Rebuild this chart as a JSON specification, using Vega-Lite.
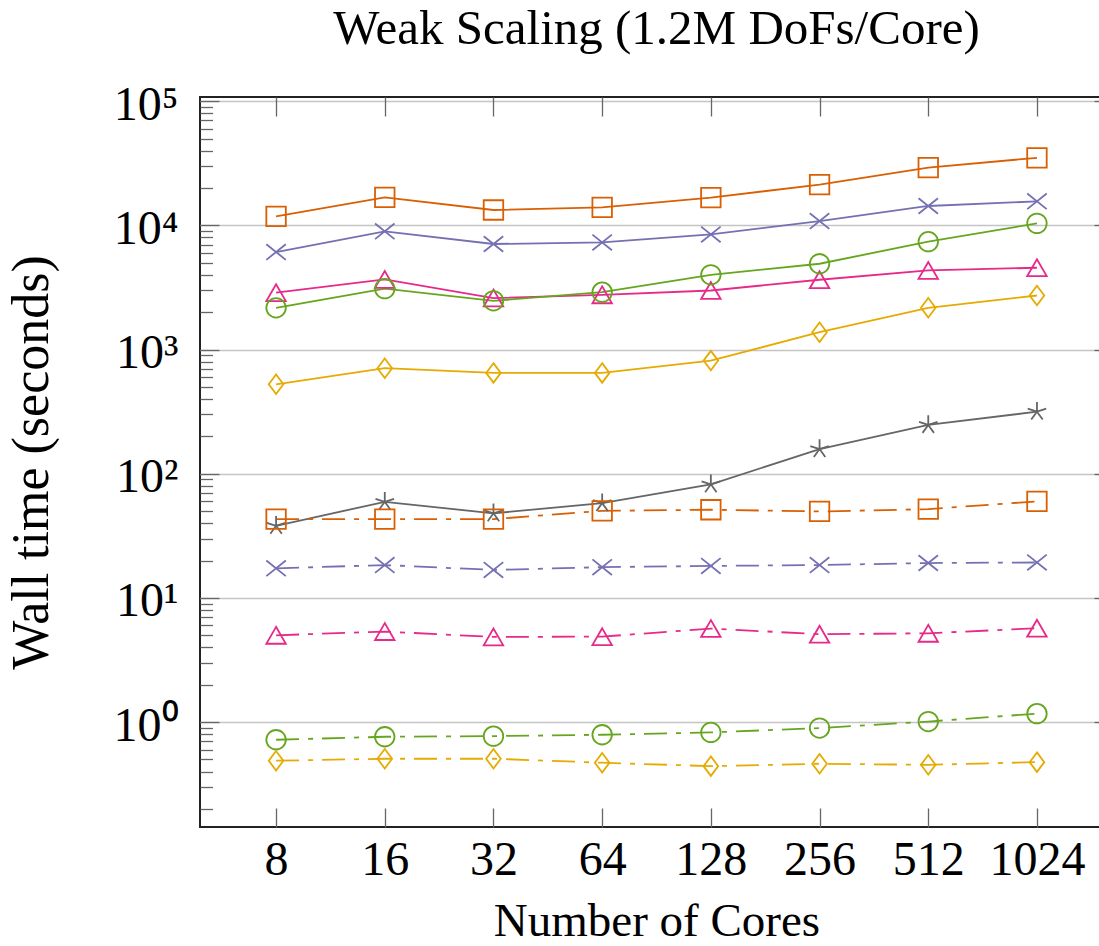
{
  "$schema": "https://vega.github.io/schema/vega-lite/v6.json",
  "width": 913,
  "height": 730,
  "autosize": {"type": "none"},
  "padding": {"left": 200, "top": 97, "right": -14, "bottom": 119},
  "background": "white",
  "title": {"text": "Weak Scaling (1.2M DoFs/Core)", "font": "Liberation Serif", "fontSize": 49, "fontWeight": "normal", "color": "black", "anchor": "middle", "frame": "group", "offset": 27},
  "config": {
    "view": {"stroke": "#222222", "strokeWidth": 2},
    "axis": {"labelFont": "Liberation Serif", "labelFontSize": 48, "labelColor": "black", "titleFont": "Liberation Serif", "titleFontSize": 48, "titleFontWeight": "normal", "titleColor": "black", "tickColor": "#666666", "tickWidth": 1.3, "domain": false, "gridColor": "#c4c4c4", "gridWidth": 1.5}
  },
  "data": {"values": [
    {"cores": 8, "time": 11830, "group": "A", "variant": "a"},
    {"cores": 16, "time": 16800, "group": "A", "variant": "a"},
    {"cores": 32, "time": 13300, "group": "A", "variant": "a"},
    {"cores": 64, "time": 13970, "group": "A", "variant": "a"},
    {"cores": 128, "time": 16720, "group": "A", "variant": "a"},
    {"cores": 256, "time": 21300, "group": "A", "variant": "a"},
    {"cores": 512, "time": 29200, "group": "A", "variant": "a"},
    {"cores": 1024, "time": 35000, "group": "A", "variant": "a"},
    {"cores": 8, "time": 6100, "group": "B", "variant": "a"},
    {"cores": 16, "time": 8950, "group": "B", "variant": "a"},
    {"cores": 32, "time": 7080, "group": "B", "variant": "a"},
    {"cores": 64, "time": 7290, "group": "B", "variant": "a"},
    {"cores": 128, "time": 8460, "group": "B", "variant": "a"},
    {"cores": 256, "time": 10840, "group": "B", "variant": "a"},
    {"cores": 512, "time": 14330, "group": "B", "variant": "a"},
    {"cores": 1024, "time": 15620, "group": "B", "variant": "a"},
    {"cores": 8, "time": 2870, "group": "C", "variant": "a"},
    {"cores": 16, "time": 3670, "group": "C", "variant": "a"},
    {"cores": 32, "time": 2600, "group": "C", "variant": "a"},
    {"cores": 64, "time": 2760, "group": "C", "variant": "a"},
    {"cores": 128, "time": 2990, "group": "C", "variant": "a"},
    {"cores": 256, "time": 3650, "group": "C", "variant": "a"},
    {"cores": 512, "time": 4340, "group": "C", "variant": "a"},
    {"cores": 1024, "time": 4560, "group": "C", "variant": "a"},
    {"cores": 8, "time": 2170, "group": "D", "variant": "a"},
    {"cores": 16, "time": 3090, "group": "D", "variant": "a"},
    {"cores": 32, "time": 2470, "group": "D", "variant": "a"},
    {"cores": 64, "time": 2900, "group": "D", "variant": "a"},
    {"cores": 128, "time": 4000, "group": "D", "variant": "a"},
    {"cores": 256, "time": 4910, "group": "D", "variant": "a"},
    {"cores": 512, "time": 7390, "group": "D", "variant": "a"},
    {"cores": 1024, "time": 10380, "group": "D", "variant": "a"},
    {"cores": 8, "time": 525, "group": "E", "variant": "a"},
    {"cores": 16, "time": 708, "group": "E", "variant": "a"},
    {"cores": 32, "time": 649, "group": "E", "variant": "a"},
    {"cores": 64, "time": 649, "group": "E", "variant": "a"},
    {"cores": 128, "time": 815, "group": "E", "variant": "a"},
    {"cores": 256, "time": 1380, "group": "E", "variant": "a"},
    {"cores": 512, "time": 2170, "group": "E", "variant": "a"},
    {"cores": 1024, "time": 2725, "group": "E", "variant": "a"},
    {"cores": 8, "time": 38.1, "group": "F", "variant": "a"},
    {"cores": 16, "time": 59.4, "group": "F", "variant": "a"},
    {"cores": 32, "time": 48.0, "group": "F", "variant": "a"},
    {"cores": 64, "time": 58.0, "group": "F", "variant": "a"},
    {"cores": 128, "time": 82.2, "group": "F", "variant": "a"},
    {"cores": 256, "time": 158, "group": "F", "variant": "a"},
    {"cores": 512, "time": 247, "group": "F", "variant": "a"},
    {"cores": 1024, "time": 316, "group": "F", "variant": "a"},
    {"cores": 8, "time": 43.1, "group": "A", "variant": "b"},
    {"cores": 16, "time": 43.1, "group": "A", "variant": "b"},
    {"cores": 32, "time": 43.1, "group": "A", "variant": "b"},
    {"cores": 64, "time": 50.3, "group": "A", "variant": "b"},
    {"cores": 128, "time": 51.3, "group": "A", "variant": "b"},
    {"cores": 256, "time": 49.7, "group": "A", "variant": "b"},
    {"cores": 512, "time": 51.9, "group": "A", "variant": "b"},
    {"cores": 1024, "time": 59.9, "group": "A", "variant": "b"},
    {"cores": 8, "time": 17.3, "group": "B", "variant": "b"},
    {"cores": 16, "time": 18.4, "group": "B", "variant": "b"},
    {"cores": 32, "time": 16.8, "group": "B", "variant": "b"},
    {"cores": 64, "time": 17.7, "group": "B", "variant": "b"},
    {"cores": 128, "time": 18.1, "group": "B", "variant": "b"},
    {"cores": 256, "time": 18.4, "group": "B", "variant": "b"},
    {"cores": 512, "time": 19.1, "group": "B", "variant": "b"},
    {"cores": 1024, "time": 19.3, "group": "B", "variant": "b"},
    {"cores": 8, "time": 5.0, "group": "C", "variant": "b"},
    {"cores": 16, "time": 5.36, "group": "C", "variant": "b"},
    {"cores": 32, "time": 4.85, "group": "C", "variant": "b"},
    {"cores": 64, "time": 4.88, "group": "C", "variant": "b"},
    {"cores": 128, "time": 5.67, "group": "C", "variant": "b"},
    {"cores": 256, "time": 5.10, "group": "C", "variant": "b"},
    {"cores": 512, "time": 5.19, "group": "C", "variant": "b"},
    {"cores": 1024, "time": 5.70, "group": "C", "variant": "b"},
    {"cores": 8, "time": 0.721, "group": "D", "variant": "b"},
    {"cores": 16, "time": 0.762, "group": "D", "variant": "b"},
    {"cores": 32, "time": 0.771, "group": "D", "variant": "b"},
    {"cores": 64, "time": 0.791, "group": "D", "variant": "b"},
    {"cores": 128, "time": 0.826, "group": "D", "variant": "b"},
    {"cores": 256, "time": 0.895, "group": "D", "variant": "b"},
    {"cores": 512, "time": 1.01, "group": "D", "variant": "b"},
    {"cores": 1024, "time": 1.17, "group": "D", "variant": "b"},
    {"cores": 8, "time": 0.489, "group": "E", "variant": "b"},
    {"cores": 16, "time": 0.507, "group": "E", "variant": "b"},
    {"cores": 32, "time": 0.507, "group": "E", "variant": "b"},
    {"cores": 64, "time": 0.471, "group": "E", "variant": "b"},
    {"cores": 128, "time": 0.442, "group": "E", "variant": "b"},
    {"cores": 256, "time": 0.462, "group": "E", "variant": "b"},
    {"cores": 512, "time": 0.453, "group": "E", "variant": "b"},
    {"cores": 1024, "time": 0.476, "group": "E", "variant": "b"}
  ]},
  "resolve": {"axis": {"x": "independent", "y": "independent"}},
  "layer": [
    {
      "transform": [{"filter": "datum.variant === 'a'"}],
      "mark": {"type": "line", "strokeWidth": 1.8},
      "encoding": {
        "x": {"field": "cores", "type": "quantitative", "scale": {"type": "log", "base": 2, "domain": [4.925, 1663], "nice": false, "zero": false},
              "axis": {"orient": "bottom", "values": [8, 16, 32, 64, 128, 256, 512, 1024], "format": "d", "tickSize": -19, "labelPadding": 28, "grid": false, "title": "Number of Cores", "titlePadding": 14, "titleFontSize": 47, "labelFlush": false}},
        "y": {"field": "time", "type": "quantitative", "scale": {"type": "log", "domain": [0.143, 108100], "nice": false, "zero": false},
              "axis": {"orient": "left", "values": [1, 10, 100, 1000, 10000, 100000], "labelExpr": "'10' + ['⁰','¹','²','³','⁴','⁵'][round(log(datum.value)/LN10)]", "tickSize": -19, "labelPadding": 41, "labelOffset": 4, "grid": true, "title": "Wall time (seconds)", "titlePadding": 55, "titleFontSize": 52, "labelFlush": false}},
        "color": {"field": "group", "type": "nominal", "scale": {"domain": ["A", "B", "C", "D", "E", "F"], "range": ["#d95f02", "#7570b3", "#e7298a", "#66a61e", "#e6ab02", "#666666"]}, "legend": null},
        "detail": {"field": "variant"}
      }
    },
    {
      "transform": [{"filter": "datum.variant === 'b'"}],
      "mark": {"type": "line", "strokeWidth": 1.8, "strokeDash": [23, 9, 5, 9]},
      "encoding": {
        "x": {"field": "cores", "type": "quantitative", "scale": {"type": "log", "base": 2, "domain": [4.925, 1663], "nice": false, "zero": false},
              "axis": {"orient": "top", "values": [8, 16, 32, 64, 128, 256, 512, 1024], "labels": false, "tickSize": -19, "grid": false, "title": null}},
        "y": {"field": "time", "type": "quantitative", "scale": {"type": "log", "domain": [0.143, 108100], "nice": false, "zero": false},
              "axis": {"orient": "right", "values": [1, 10, 100, 1000, 10000, 100000], "labels": false, "tickSize": -19, "grid": false, "title": null}},
        "color": {"field": "group", "type": "nominal", "legend": null}
      }
    },
    {
      "transform": [{"filter": "datum.variant === 'a'"}],
      "mark": {"type": "point", "filled": false, "strokeWidth": 1.8, "opacity": 1, "size": 380},
      "encoding": {
        "x": {"field": "cores", "type": "quantitative", "scale": {"type": "log", "base": 2, "domain": [4.925, 1663], "nice": false, "zero": false}, "axis": null},
        "y": {"field": "time", "type": "quantitative", "scale": {"type": "log", "domain": [0.143, 108100], "nice": false, "zero": false},
              "axis": {"orient": "left", "values": [0.2, 0.3, 0.4, 0.5, 0.6, 0.7, 0.8, 0.9, 2, 3, 4, 5, 6, 7, 8, 9, 20, 30, 40, 50, 60, 70, 80, 90, 200, 300, 400, 500, 600, 700, 800, 900, 2000, 3000, 4000, 5000, 6000, 7000, 8000, 9000, 20000, 30000, 40000, 50000, 60000, 70000, 80000, 90000], "labels": false, "tickSize": -12.5, "grid": false, "title": null}},
        "color": {"field": "group", "type": "nominal", "legend": null},
        "shape": {"field": "group", "type": "nominal", "scale": {"domain": ["A", "B", "C", "D", "E", "F"], "range": ["square", "M-1,-0.8L1,0.8M-1,0.8L1,-0.8", "triangle-up", "circle", "M0,-1L0.75,0L0,1L-0.75,0Z", "M0,0L0,-1M0,0L-0.951,-0.309M0,0L-0.588,0.809M0,0L0.588,0.809M0,0L0.951,-0.309"]}, "legend": null}
      }
    },
    {
      "transform": [{"filter": "datum.variant === 'b'"}],
      "mark": {"type": "point", "filled": false, "strokeWidth": 1.8, "opacity": 1, "size": 380},
      "encoding": {
        "x": {"field": "cores", "type": "quantitative", "scale": {"type": "log", "base": 2, "domain": [4.925, 1663], "nice": false, "zero": false}, "axis": null},
        "y": {"field": "time", "type": "quantitative", "scale": {"type": "log", "domain": [0.143, 108100], "nice": false, "zero": false},
              "axis": {"orient": "right", "values": [0.2, 0.3, 0.4, 0.5, 0.6, 0.7, 0.8, 0.9, 2, 3, 4, 5, 6, 7, 8, 9, 20, 30, 40, 50, 60, 70, 80, 90, 200, 300, 400, 500, 600, 700, 800, 900, 2000, 3000, 4000, 5000, 6000, 7000, 8000, 9000, 20000, 30000, 40000, 50000, 60000, 70000, 80000, 90000], "labels": false, "tickSize": -12.5, "grid": false, "title": null}},
        "color": {"field": "group", "type": "nominal", "legend": null},
        "shape": {"field": "group", "type": "nominal", "legend": null}
      }
    }
  ]
}
